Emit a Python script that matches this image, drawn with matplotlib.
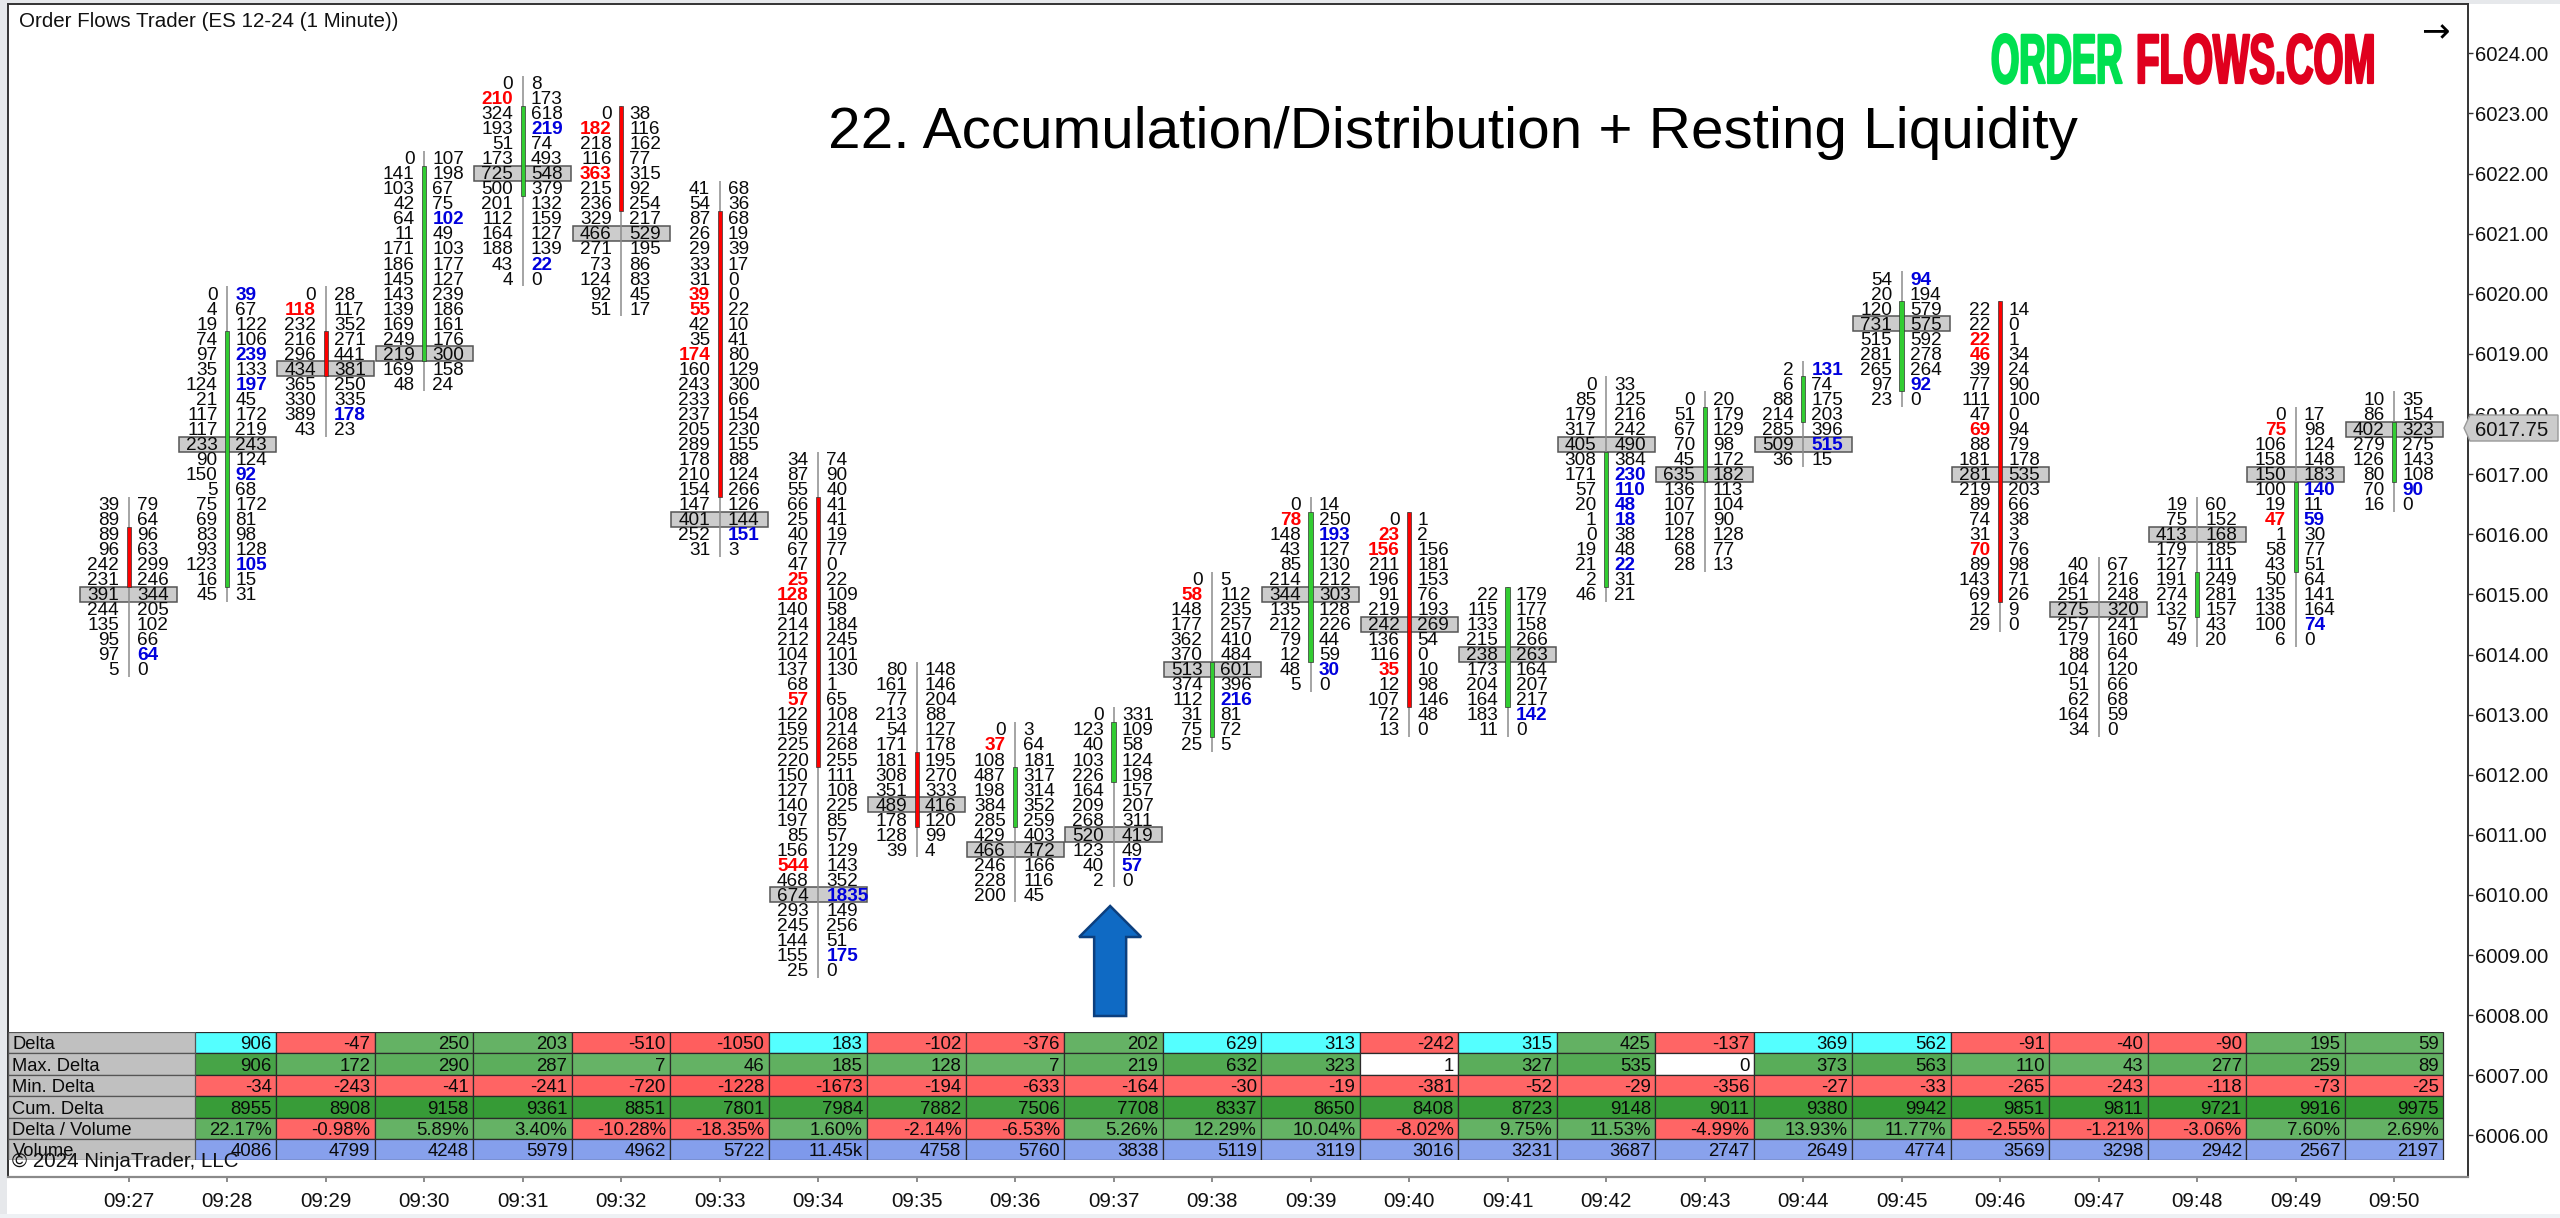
import matplotlib
matplotlib.use("Agg")
import matplotlib.pyplot as plt
from matplotlib.patches import FancyArrow, Rectangle, Polygon
from matplotlib.patheffects import AbstractPathEffect
from matplotlib.transforms import Affine2D

# ---------- data ----------
times = ["09:27","09:28","09:29","09:30","09:31","09:32","09:33","09:34","09:35","09:36","09:37","09:38",
         "09:39","09:40","09:41","09:42","09:43","09:44","09:45","09:46","09:47","09:48","09:49","09:50"]
top_price = [6016.5,6020,6020,6022.25,6023.5,6023,6021.75,6017.25,6013.75,6012.75,6013,6015.25,
             6016.5,6016.25,6015,6018.5,6018.25,6018.75,6020.25,6019.75,6015.5,6016.5,6018,6018.25]
poc_row = [6,10,5,13,6,8,22,29,9,8,8,6,6,7,4,4,5,5,3,11,3,2,4,2]
body_first = [2,3,3,1,2,0,2,3,6,3,1,6,1,0,0,5,1,1,2,0,None,5,5,2]
body_last = [5,19,5,13,7,6,20,20,10,6,4,10,10,12,7,13,5,3,7,19,None,7,10,5]
body_up = [0,1,0,1,1,0,0,0,0,1,1,1,1,0,1,1,1,1,1,0,0,1,1,1]

bids = [
 [39,89,89,96,242,231,391,244,135,95,97,5],
 [0,4,19,74,97,35,124,21,117,117,233,90,150,5,75,69,83,93,123,16,45],
 [0,118,232,216,296,434,365,330,389,43],
 [0,141,103,42,64,11,171,186,145,143,139,169,249,219,169,48],
 [0,210,324,193,51,173,725,500,201,112,164,188,43,4],
 [0,182,218,116,363,215,236,329,466,271,73,124,92,51],
 [41,54,87,26,29,33,31,39,55,42,35,174,160,243,233,237,205,289,178,210,154,147,401,252,31],
 [34,87,55,66,25,40,67,47,25,128,140,214,212,104,137,68,57,122,159,225,220,150,127,140,197,85,156,544,468,674,293,245,144,155,25],
 [80,161,77,213,54,171,181,308,351,489,178,128,39],
 [0,37,108,487,198,384,285,429,466,246,228,200],
 [0,123,40,103,226,164,209,268,520,123,40,2],
 [0,58,148,177,362,370,513,374,112,31,75,25],
 [0,78,148,43,85,214,344,135,212,79,12,48,5],
 [0,23,156,211,196,91,219,242,136,116,35,12,107,72,13],
 [22,115,133,215,238,173,204,164,183,11],
 [0,85,179,317,405,308,171,57,20,1,0,19,21,2,46],
 [0,51,67,70,45,635,136,107,107,128,68,28],
 [2,6,88,214,285,509,36],
 [54,20,120,731,515,281,265,97,23],
 [22,22,22,46,39,77,111,47,69,88,181,281,219,89,74,31,70,89,143,69,12,29],
 [40,164,251,275,257,179,88,104,51,62,164,34],
 [19,75,413,179,127,191,274,132,57,49],
 [0,75,106,158,150,100,19,47,1,58,43,50,135,138,100,6],
 [10,86,402,279,126,80,70,16],
]
asks = [
 [79,64,96,63,299,246,344,205,102,66,64,0],
 [39,67,122,106,239,133,197,45,172,219,243,124,92,68,172,81,98,128,105,15,31],
 [28,117,352,271,441,381,250,335,178,23],
 [107,198,67,75,102,49,103,177,127,239,186,161,176,300,158,24],
 [8,173,618,219,74,493,548,379,132,159,127,139,22,0],
 [38,116,162,77,315,92,254,217,529,195,86,83,45,17],
 [68,36,68,19,39,17,0,0,22,10,41,80,129,300,66,154,230,155,88,124,266,126,144,151,3],
 [74,90,40,41,41,19,77,0,22,109,58,184,245,101,130,1,65,108,214,268,255,111,108,225,85,57,129,143,352,1835,149,256,51,175,0],
 [148,146,204,88,127,178,195,270,333,416,120,99,4],
 [3,64,181,317,314,352,259,403,472,166,116,45],
 [331,109,58,124,198,157,207,311,419,49,57,0],
 [5,112,235,257,410,484,601,396,216,81,72,5],
 [14,250,193,127,130,212,303,128,226,44,59,30,0],
 [1,2,156,181,153,76,193,269,54,0,10,98,146,48,0],
 [179,177,158,266,263,164,207,217,142,0],
 [33,125,216,242,490,384,230,110,48,18,38,48,22,31,21],
 [20,179,129,98,172,182,113,104,90,128,77,13],
 [131,74,175,203,396,515,15],
 [94,194,579,575,592,278,264,92,0],
 [14,0,1,34,24,90,100,0,94,79,178,535,203,66,38,3,76,98,71,26,9,0],
 [67,216,248,320,241,160,64,120,66,68,59,0],
 [60,152,168,185,111,249,281,157,43,20],
 [17,98,124,148,183,140,11,59,30,77,51,64,141,164,74,0],
 [35,154,323,275,143,108,90,0],
]
bold_bid = [[],[],[1],[],[1],[1,4],[7,8,11],[8,9,16,27],[],[1],[],[1],[1],[1,2,10],[],[],[],[],[],[2,3,8,16],[],[],[1,7],[]]
bold_ask = [[10],[0,4,6,12,18],[8],[4],[3,12],[],[23],[29,33],[],[],[10],[8],[2,11],[],[8],[6,7,8,9,12],[],[0,5],[0,7],[],[],[],[5,7,14],[6]]

row_names = ["Delta","Max. Delta","Min. Delta","Cum. Delta","Delta / Volume","Volume"]
delta = [906,-47,250,203,-510,-1050,183,-102,-376,202,629,313,-242,315,425,-137,369,562,-91,-40,-90,195,59]
delta_cyan = [906,183,629,313,315,369,562]
max_delta = [906,172,290,287,7,46,185,128,7,219,632,323,1,327,535,0,373,563,110,43,277,259,89]
min_delta = [-34,-243,-41,-241,-720,-1228,-1673,-194,-633,-164,-30,-19,-381,-52,-29,-356,-27,-33,-265,-243,-118,-73,-25]
cum_delta = [8955,8908,9158,9361,8851,7801,7984,7882,7506,7708,8337,8650,8408,8723,9148,9011,9380,9942,9851,9811,9721,9916,9975]
delta_vol = [22.17,-0.98,5.89,3.40,-10.28,-18.35,1.60,-2.14,-6.53,5.26,12.29,10.04,-8.02,9.75,11.53,-4.99,13.93,11.77,-2.55,-1.21,-3.06,7.60,2.69]
volume = [4086,4799,4248,5979,4962,5722,11450,4758,5760,3838,5119,3119,3016,3231,3687,2747,2649,4774,3569,3298,2942,2567,2197]
price_ticks = list(range(6006, 6025))
last_price = 6017.75

# ---------- layout helpers ----------
W, H = 2560, 1218
FONT = "Liberation Sans"
plt.rcParams["font.family"] = [FONT, "DejaVu Sans"]
def pt(px): return px * 0.72
def rect(x0, y0, x1, y1): return [x0 / W, 1 - y1 / H, (x1 - x0) / W, (y1 - y0) / H]
def ftext(x, y, s, px, **kw): return fig.text(x / W, 1 - y / H, s, fontsize=pt(px), **kw)

PX_PER_MIN = 98.5; X0 = 128.6
PX_PER_PT = 60.12; Y6024 = 53.3
AX_L, AX_R, AX_T, AX_B = 8, 2468, 4, 1177
xlim = ((AX_L - X0) / PX_PER_MIN, (AX_R - X0) / PX_PER_MIN)
ylim = (6024 - (AX_B - Y6024) / PX_PER_PT, 6024 + (Y6024 - AX_T) / PX_PER_PT)
dx = 1 / PX_PER_MIN; dy = 1 / PX_PER_PT

fig = plt.figure(figsize=(W / 100, H / 100), dpi=100, facecolor="white")

# window chrome
bg = fig.add_axes([0, 0, 1, 1], zorder=-5); bg.set_axis_off(); bg.set_xlim(0, W); bg.set_ylim(H, 0)
bg.add_patch(Rectangle((0, 0), W, 3.5, fc="#E6E8EB", ec="none"))
bg.add_patch(Rectangle((0, 0), 6.5, H, fc="#E6E8EB", ec="none"))
bg.add_patch(Rectangle((0, 1214), W, 4, fc="#EEF1F4", ec="none"))

ax = fig.add_axes(rect(AX_L, AX_T, AX_R, AX_B), facecolor="white")
ax.set_xlim(*xlim); ax.set_ylim(*ylim)
for side in ("top", "left", "right"):
    ax.spines[side].set_color("#333333"); ax.spines[side].set_linewidth(1.4)
ax.spines["bottom"].set_color("#8a8a8a"); ax.spines["bottom"].set_linewidth(1.6)
ax.yaxis.tick_right()
ax.set_yticks(price_ticks); ax.set_yticklabels([f"{p:.2f}" for p in price_ticks], fontsize=pt(20.4), color="#111111")
ax.set_xticks(range(len(times))); ax.set_xticklabels(times, fontsize=pt(20.6), color="#111111")
ax.tick_params(axis="y", length=3.6, width=1, color="#333333", pad=1.5)
ax.tick_params(axis="x", length=3.6, width=1.2, color="#777777", pad=7)

TXT = 19
base = (TXT * 0.358 - 1.0) * dy
for i, (bs, aa) in enumerate(zip(bids, asks)):
    top = top_price[i]; n = len(bs)
    py = [top - 0.25 * r for r in range(n)]
    ax.bar(i, 0.25, bottom=py[poc_row[i]] - 0.125, width=97 * dx, color="#CCCCCC",
           edgecolor="#555555", linewidth=1.1, zorder=1)
    ax.vlines(i, py[-1] - 0.125, top + 0.125, color="#8c8c8c", linewidth=1.1, zorder=2)
    if body_first[i] is not None:
        y1 = py[body_first[i]] + 0.125; y0 = py[body_last[i]] - 0.125
        ax.bar(i, y1 - y0, bottom=y0, width=4.2 * dx, color="#32CD32" if body_up[i] else "#FF0000",
               edgecolor="#333333", linewidth=0.5, zorder=3)
    for r in range(n):
        hb = r in bold_bid[i]; ha = r in bold_ask[i]
        ax.text(i - 9.5 * dx, py[r] - base, str(bs[r]), ha="right", va="baseline", fontsize=pt(TXT),
                color="#FF0000" if hb else "#0a0a0a", fontweight="bold" if hb else "normal", zorder=4)
        ax.text(i + 8.3 * dx, py[r] - base, str(aa[r]), ha="left", va="baseline", fontsize=pt(TXT),
                color="#0000DD" if ha else "#0a0a0a", fontweight="bold" if ha else "normal", zorder=4)

# blue arrow annotation
ax.add_patch(FancyArrow(9.965, 6024 - (1016 - Y6024) * dy, 0, (1016 - 906) * dy, width=32 * dx,
                        head_width=62 * dx, head_length=31 * dy, length_includes_head=True,
                        fc="#0F6AC4", ec="#0C3F7E", lw=1.8, zorder=5))

# current price marker
top_ax = fig.add_axes([0, 0, 1, 1], zorder=20); top_ax.set_axis_off(); top_ax.set_xlim(0, W); top_ax.set_ylim(H, 0)
top_ax.add_patch(Polygon([(2464, 428), (2470, 415), (2558, 415), (2558, 441), (2470, 441)], closed=True,
                         fc="#CCCCCC", ec="#999999", lw=1))
top_ax.text(2474.5, 435.5, f"{last_price:.2f}", fontsize=pt(20.4), color="#111111", va="baseline", ha="left")

# ---------- table ----------
tb = fig.add_axes(rect(AX_L, 1032, AX_R, 1160.3), zorder=5)
tb.set_axis_off(); tb.set_xlim(*xlim); tb.set_ylim(6, 0)
GREEN = (0, 128, 0); RED = (255, 0, 0); BLUE = (65, 105, 225)
def shade(c, a):
    return tuple((255 * (1 - a) + v * a) / 255 for v in c)
rows = [delta, max_delta, min_delta, cum_delta, delta_vol, volume]
gains = [0.03, 0.12, 0.06, 0.2, 0.02, 0.08]
for r, vals in enumerate(rows):
    mx = max(abs(v) for v in vals)
    for j, v in enumerate(vals):
        i = j + 1
        a = 0.6 + gains[r] * abs(v) / mx
        if r == 5:
            col = shade(BLUE, a)
        elif r == 1 and abs(v) <= 1:
            col = (1, 1, 1)
        elif r == 0 and v in delta_cyan:
            col = (0.33, 1, 1)
        else:
            col = shade(GREEN if v > 0 else RED, a)
        tb.bar(i, 1, bottom=r, width=1, color=col, edgecolor="#2b2b2b", linewidth=0.9, zorder=1)
        if r == 4:
            s = f"{v:.2f}%"
        elif r == 5 and v >= 10000:
            s = f"{v / 1000:.2f}k"
        else:
            s = str(v)
        tb.text(i + 0.5 - 4.5 * dx, r + 0.5 + 6.8 / 21.38, s, ha="right", va="baseline",
                fontsize=pt(18.6), color="#0a0a0a", zorder=3)
label_right = (195 - X0) / PX_PER_MIN
for r, name in enumerate(row_names):
    tb.add_patch(Rectangle((xlim[0], r), label_right - xlim[0], 1, fc="#C0C0C0", ec="#555555", lw=0.9, zorder=2))
    tb.text((12.5 - X0) / PX_PER_MIN, r + 0.5 + 6.8 / 21.38, name, ha="left", va="baseline",
            fontsize=pt(18.4), color="#0a0a0a", zorder=3)

# ---------- overlays ----------
ftext(19, 27, "Order Flows Trader (ES 12-24 (1 Minute))", 20.45, color="#111111", va="baseline", zorder=30)
ftext(12, 1167, "\u00a9 2024 NinjaTrader, LLC", 20.45, color="#111111", va="baseline", zorder=30)
ftext(828, 148, "22. Accumulation/Distribution + Resting Liquidity", 58.5, color="#000000", va="baseline", zorder=30)
ftext(2421, 42, "\u2192", 34, color="#000000", va="baseline", family="DejaVu Sans", zorder=30)

class Condense(AbstractPathEffect):
    """Narrow a text horizontally about its left anchor."""
    def __init__(self, x0, sx, stroke):
        super().__init__(); self.x0, self.sx, self.stroke = x0, sx, stroke
    def draw_path(self, renderer, gc, tpath, affine, rgbFace=None):
        a = affine + Affine2D().translate(-self.x0, 0).scale(self.sx, 1).translate(self.x0, 0)
        g = renderer.new_gc(); g.copy_properties(gc)
        g.set_linewidth(self.stroke); g.set_foreground(rgbFace)
        renderer.draw_path(g, tpath, a, rgbFace); g.restore()

for x0, s, col, sx in [(1991, "ORDER", "#00E050", 0.52), (2136, "FLOWS.COM", "#E0001E", 0.55)]:
    t = ftext(x0, 83, s, 70, color=col, fontweight="bold", va="baseline", ha="left", zorder=30)
    t.set_path_effects([Condense(x0, sx, 1.6)])

fig.savefig("out.png", dpi=100, facecolor="white")
